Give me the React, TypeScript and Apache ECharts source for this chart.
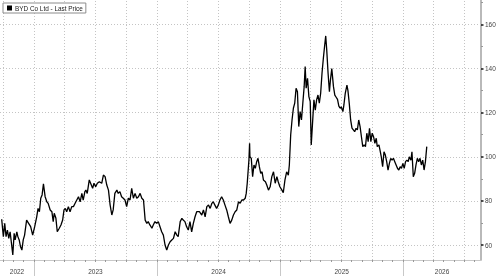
import React, { useEffect, useRef } from "react";
import * as echarts from "echarts";

const seriesName = "BYD Co Ltd - Last Price";

const dates = [
  "2022-09-27","2022-10-02","2022-10-06","2022-10-10","2022-10-14","2022-10-18","2022-10-22","2022-10-26","2022-10-30","2022-11-03",
  "2022-11-06","2022-11-11","2022-11-14","2022-11-18","2022-11-22","2022-11-26","2022-11-30","2022-12-04","2022-12-10","2022-12-16",
  "2022-12-22","2022-12-28","2023-01-03","2023-01-09","2023-01-13","2023-01-17","2023-01-21","2023-01-25","2023-01-29","2023-02-03",
  "2023-02-08","2023-02-12","2023-02-18","2023-02-23","2023-02-27","2023-03-02","2023-03-07","2023-03-11","2023-03-17","2023-03-22",
  "2023-03-27","2023-03-31","2023-04-04","2023-04-08","2023-04-13","2023-04-18","2023-04-23","2023-04-28","2023-05-03","2023-05-08",
  "2023-05-13","2023-05-18","2023-05-23","2023-05-27","2023-06-01","2023-06-04","2023-06-08","2023-06-14","2023-06-18","2023-06-24",
  "2023-06-28","2023-07-03","2023-07-08","2023-07-14",
  "2023-07-21","2023-07-26","2023-07-31","2023-08-05","2023-08-10","2023-08-15","2023-08-20","2023-08-24","2023-08-29","2023-09-04",
  "2023-09-08","2023-09-13","2023-09-18","2023-09-23","2023-09-28","2023-10-03","2023-10-08","2023-10-13","2023-10-18","2023-10-23",
  "2023-10-28","2023-11-02","2023-11-07","2023-11-12","2023-11-17","2023-11-22","2023-11-27","2023-12-02","2023-12-06","2023-12-11",
  "2023-12-17","2023-12-21","2023-12-26","2023-12-31","2024-01-05","2024-01-10","2024-01-15","2024-01-20","2024-01-25","2024-01-30",
  "2024-02-04","2024-02-09","2024-02-14","2024-02-19","2024-02-24","2024-02-29","2024-03-04","2024-03-10","2024-03-15","2024-03-19",
  "2024-03-24","2024-03-29","2024-04-03","2024-04-08","2024-04-13","2024-04-18","2024-04-23","2024-04-28","2024-05-06",
  "2024-05-13","2024-05-18","2024-05-23","2024-05-28","2024-06-02","2024-06-07","2024-06-12","2024-06-16","2024-06-21","2024-06-26",
  "2024-07-01","2024-07-06","2024-07-11","2024-07-16","2024-07-21","2024-07-26","2024-07-31","2024-08-05","2024-08-10","2024-08-15",
  "2024-08-20","2024-08-25","2024-08-30","2024-09-04","2024-09-09","2024-09-14","2024-09-19","2024-09-22","2024-09-25","2024-09-30",
  "2024-10-02","2024-10-03","2024-10-07","2024-10-11","2024-10-15","2024-10-19","2024-10-23","2024-10-27","2024-10-31","2024-11-04",
  "2024-11-08","2024-11-12","2024-11-18","2024-11-22","2024-11-27","2024-12-02","2024-12-07","2024-12-12","2024-12-17","2024-12-22",
  "2024-12-26","2024-12-31","2025-01-06","2025-01-10","2025-01-15","2025-01-20","2025-01-25","2025-01-28",
  "2025-02-01","2025-02-05","2025-02-09","2025-02-13","2025-02-17","2025-02-21","2025-02-25","2025-03-01","2025-03-05","2025-03-09",
  "2025-03-13","2025-03-16","2025-03-19","2025-03-23","2025-03-27","2025-03-31","2025-04-03","2025-04-08","2025-04-11","2025-04-15",
  "2025-04-19","2025-04-23","2025-04-27","2025-05-01","2025-05-05","2025-05-09","2025-05-13","2025-05-16","2025-05-19","2025-05-23",
  "2025-05-27",
  "2025-05-30","2025-06-03","2025-06-08","2025-06-12","2025-06-16","2025-06-20","2025-06-24","2025-06-28","2025-07-01","2025-07-06",
  "2025-07-09","2025-07-13","2025-07-18","2025-07-21","2025-07-25","2025-07-29","2025-08-02","2025-08-06","2025-08-10","2025-08-14",
  "2025-08-18","2025-08-22","2025-08-26","2025-08-30","2025-09-03","2025-09-07","2025-09-11","2025-09-15","2025-09-19","2025-09-23",
  "2025-09-27","2025-10-01","2025-10-05","2025-10-09","2025-10-13","2025-10-16","2025-10-21","2025-10-24","2025-10-28","2025-11-01",
  "2025-11-05","2025-11-09","2025-11-13","2025-11-17","2025-11-21","2025-11-25","2025-11-29","2025-12-03","2025-12-07","2025-12-11",
  "2025-12-15","2025-12-19","2025-12-23","2025-12-27","2025-12-31","2026-01-04","2026-01-08","2026-01-12","2026-01-16","2026-01-19",
  "2026-01-24","2026-01-27","2026-01-31","2026-02-04","2026-02-08","2026-02-12","2026-02-16","2026-02-20","2026-02-24","2026-02-28",
  "2026-03-04","2026-03-08","2026-03-12"
];

const prices = [
  71.7,63.8,69.8,63.8,66.8,63.0,66.0,60.8,55.5,65.3,
  62.3,66.0,63.8,62.3,59.2,57.7,62.3,64.5,71.3,69.8,
  68.3,64.5,68.3,72.8,76.6,75.1,81.2,82.7,87.7,81.9,
  79.6,78.9,75.9,75.1,70.6,74.4,72.1,66.0,67.6,69.1,
  71.3,75.9,76.6,75.1,77.4,75.1,77.4,77.4,78.9,80.4,
  81.9,79.6,83.4,80.4,84.2,84.9,83.4,89.5,88.0,85.7,
  88.0,86.4,88.0,88.7,
  88.0,91.7,91.0,87.2,84.9,78.1,73.6,75.9,83.4,84.9,
  83.4,84.2,81.9,81.2,80.4,77.4,81.2,80.4,85.7,81.2,
  83.4,81.2,81.9,83.4,81.2,80.4,71.3,69.8,70.6,69.1,
  67.6,69.1,70.6,69.8,70.6,68.3,66.0,64.5,60.0,57.7,
  60.0,61.5,62.3,63.0,66.0,64.5,63.8,70.6,72.1,71.3,
  70.6,68.3,66.8,70.6,66.0,69.8,72.8,75.1,75.1,
  73.6,75.9,72.8,77.4,78.1,76.6,78.9,79.6,78.1,76.6,
  78.1,80.4,81.9,80.4,78.1,75.9,72.8,69.8,71.3,73.6,
  75.1,75.9,79.6,78.9,80.4,80.4,81.2,83.4,88.0,98.5,
  106.1,100.0,99.3,91.0,96.3,94.8,97.8,99.3,95.5,92.5,
  93.2,89.5,88.7,87.2,84.9,86.4,91.0,93.2,88.0,91.0,
  88.7,86.4,84.9,83.7,89.5,93.2,91.7,96.3,
  109.9,116.7,122.0,124.3,131.1,129.5,113.7,120.5,116.7,124.3,
  131.8,140.9,131.1,135.6,127.3,125.0,105.4,118.2,125.8,121.2,
  125.8,128.0,124.3,128.8,137.9,144.7,150.7,154.8,148.5,137.9,
  129.5,
  134.8,140.0,131.8,128.0,127.0,126.0,123.0,122.0,122.7,120.5,
  123.5,128.8,132.5,130.0,124.0,116.7,113.0,112.2,111.4,112.9,
  112.2,116.7,113.7,109.1,104.6,105.4,104.6,110.7,106.9,112.9,
  106.9,110.7,109.1,106.1,108.4,104.6,105.4,103.1,100.0,95.5,
  102.3,100.8,97.8,94.0,97.0,99.3,98.5,99.3,97.8,96.3,
  94.8,94.0,95.5,94.8,97.0,94.8,97.8,98.5,97.8,100.0,
  98.5,102.3,91.0,92.5,96.3,99.3,97.8,99.3,96.3,98.5,
  94.0,97.8,104.6
];

const yLabelValues = [60, 80, 100, 120, 140, 160];
const yMinorTickValues = [70, 90, 110, 130, 150, 170];
const yearLabels = ["2022", "2023", "2024", "2025", "2026"];
const axisStartDate = "2022-09-22";
const axisEndDate = "2026-08-20";
const yMin = 53.2;
const yMax = 171.1;

const FONT = "Liberation Sans";

export default function App() {
  const ref = useRef<HTMLDivElement>(null);

  useEffect(() => {
    if (!ref.current) return;
    const chart = echarts.init(ref.current, undefined, { renderer: "svg" });

    const xMin = Date.parse(axisStartDate);
    const xMax = Date.parse(axisEndDate);

    const quarterStarts: number[] = [];
    const monthStarts: number[] = [];
    const yearStarts: number[] = [];
    for (let y = 2022; y <= 2026; y++) {
      for (let m = 0; m < 12; m++) {
        const t = Date.UTC(y, m, 1);
        if (t <= xMin || t >= xMax) continue;
        monthStarts.push(t);
        if (m % 3 === 0) quarterStarts.push(t);
        if (m === 0) yearStarts.push(t);
      }
    }
    const labelCenters = yearLabels.map((yl) => {
      const y = Number(yl);
      const a = Math.max(xMin, Date.UTC(y, 0, 1));
      const b = Math.min(xMax, Date.UTC(y + 1, 0, 1));
      return (a + b) / 2;
    });

    const data = dates.map((d, i) => [Date.parse(d), prices[i]]);

    chart.setOption({
      animation: false,
      grid: { left: 0, right: 19, top: 0, bottom: 17, containLabel: false },
      legend: {
        left: 3,
        top: 3,
        data: [{ name: seriesName, icon: "rect" }],
        itemWidth: 5,
        itemHeight: 5,
        padding: [2, 3, 2, 4],
        borderColor: "#8c8c8c",
        borderWidth: 1,
        backgroundColor: "#ffffff",
        selectedMode: false,
        z: 20,
        textStyle: { fontSize: 6.4, color: "#222", fontFamily: FONT, padding: [0, 0, 0, -2] },
      },
      xAxis: [
        {
          type: "value",
          min: xMin,
          max: xMax,
          position: "bottom",
          axisLine: { show: true, lineStyle: { color: "#c8c8c8", width: 1 } },
          axisTick: {
            show: true,
            customValues: yearStarts,
            length: 16,
            lineStyle: { color: "#c8c8c8", width: 1 },
          },
          axisLabel: {
            show: true,
            customValues: labelCenters,
            formatter: (v: number) => String(new Date(v).getUTCFullYear()),
            fontSize: 6.5,
            color: "#444",
            fontFamily: FONT,
            margin: 8,
          },
          splitLine: { show: false },
        },
        {
          type: "value",
          min: xMin,
          max: xMax,
          position: "bottom",
          axisLine: { show: false },
          axisTick: {
            show: true,
            customValues: monthStarts,
            length: 2,
            lineStyle: { color: "#999", width: 1 },
          },
          axisLabel: { show: false },
          splitLine: { show: false },
        },
      ],
      yAxis: [
        {
          type: "value",
          position: "right",
          min: yMin,
          max: yMax,
          axisLine: { show: true, lineStyle: { color: "#a8a8a8", width: 1.6 } },
          axisTick: {
            show: true,
            customValues: yLabelValues,
            length: 2.5,
            lineStyle: { color: "#222", width: 1.6 },
          },
          axisLabel: {
            show: true,
            customValues: yLabelValues,
            fontSize: 6.5,
            color: "#444",
            fontFamily: FONT,
            margin: 4,
          },
          splitLine: { show: false },
        },
        {
          type: "value",
          position: "right",
          min: yMin,
          max: yMax,
          axisLine: { show: false },
          axisTick: {
            show: true,
            customValues: yMinorTickValues,
            length: 2,
            lineStyle: { color: "#999", width: 1 },
          },
          axisLabel: { show: false },
          splitLine: { show: false },
        },
      ],
      series: [
        {
          name: "grid",
          type: "line",
          data: [],
          z: 1,
          silent: true,
          markLine: {
            silent: true,
            z: 1,
            symbol: ["none", "none"],
            label: { show: false },
            lineStyle: { color: "#c4c4c4", type: [1, 2], width: 1 },
            emphasis: { disabled: true },
            data: [
              ...quarterStarts.map((q) => ({ xAxis: q })),
              ...yLabelValues.map((v) => ({ yAxis: v })),
            ],
          },
        },
        {
          name: seriesName,
          type: "line",
          data,
          z: 10,
          showSymbol: false,
          symbol: "none",
          color: "#000",
          lineStyle: { color: "#000", width: 1.3 },
        },
      ],
    });

    return () => chart.dispose();
  }, []);

  return (
    <div
      ref={ref}
      style={{ position: "fixed", left: 0, top: 0, width: 500, height: 277 }}
    />
  );
}
